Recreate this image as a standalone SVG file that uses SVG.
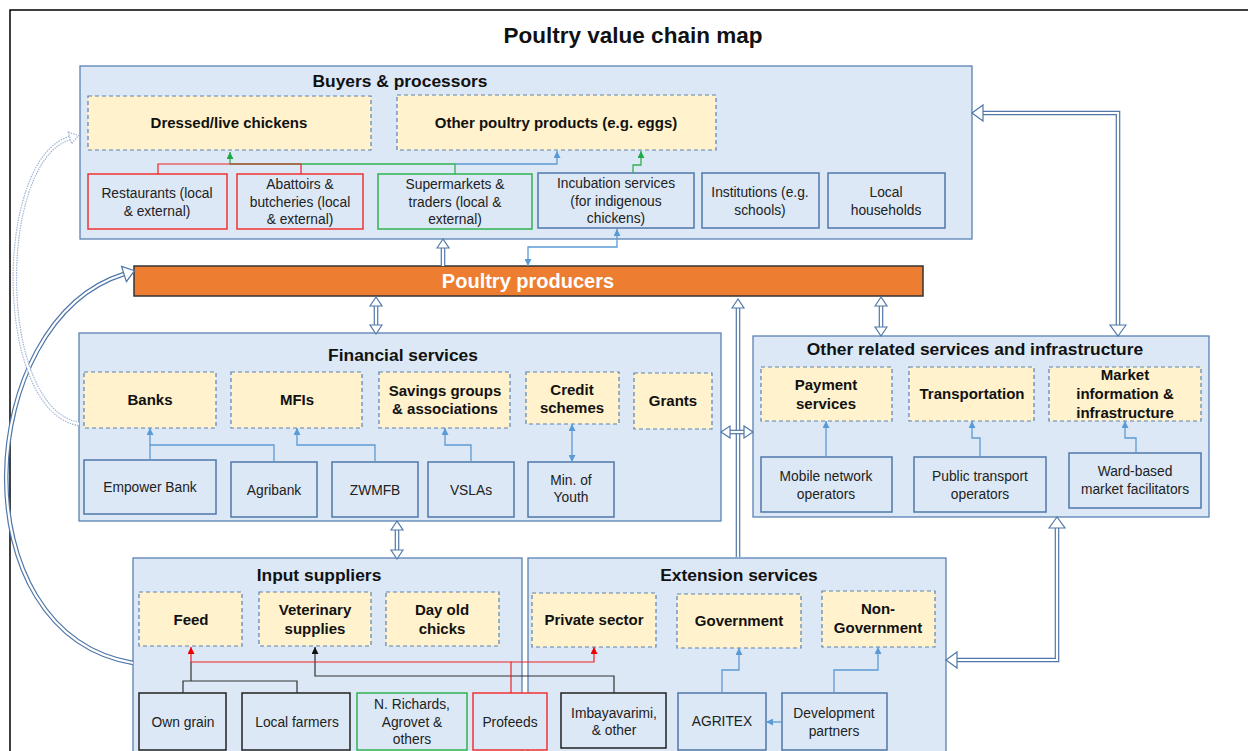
<svg xmlns="http://www.w3.org/2000/svg" width="1248" height="751" viewBox="0 0 1248 751">
<style>
text{font-family:"Liberation Sans",Arial,sans-serif;text-anchor:middle;fill:#111}
.t1{font-size:22.5px;font-weight:bold}
.t2{font-size:17.4px;font-weight:bold}
.th{font-size:15px;font-weight:bold}
.tb{font-size:13.8px;fill:#222}
.tp{font-size:20px;font-weight:bold;fill:#fff}
.ctr{fill:#dce8f6;stroke:#5a82b4;stroke-width:1.3}
.hdr{fill:#fff2cc;stroke:#5a82b4;stroke-width:1.2;stroke-dasharray:4 3}
.sub{fill:#dce8f6;stroke:#4f77a8;stroke-width:1.5}
.red{stroke:#ee3333}
.grn{stroke:#2fb350}
.blk{stroke:#222}
.ln{fill:none;stroke:#5b9bd5;stroke-width:1.3}
.lr{fill:none;stroke:#ee2222;stroke-width:1.2}
.lg{fill:none;stroke:#2fb350;stroke-width:1.3}
.lk{fill:none;stroke:#333;stroke-width:1.2}
.dout{fill:none;stroke:#4f77a8;stroke-width:4.6}
.din{fill:none;stroke:#fff;stroke-width:2.2}
.dotout{fill:none;stroke:#a3b8d4;stroke-width:4.6;stroke-dasharray:1.5 1}
</style>
<defs>
<marker id="ab" markerUnits="userSpaceOnUse" viewBox="0 0 8 8" refX="8" refY="4" markerWidth="7" markerHeight="7" orient="auto-start-reverse"><path d="M0,0L8,4L0,8z" fill="#5b9bd5"/></marker>
<marker id="ag" markerUnits="userSpaceOnUse" viewBox="0 0 8 8" refX="8" refY="4" markerWidth="7" markerHeight="7" orient="auto-start-reverse"><path d="M0,0L8,4L0,8z" fill="#1faa45"/></marker>
<marker id="ar" markerUnits="userSpaceOnUse" viewBox="0 0 8 8" refX="8" refY="4" markerWidth="7" markerHeight="7" orient="auto-start-reverse"><path d="M0,0L8,4L0,8z" fill="#ee0000"/></marker>
<marker id="ak" markerUnits="userSpaceOnUse" viewBox="0 0 8 8" refX="8" refY="4" markerWidth="7" markerHeight="7" orient="auto-start-reverse"><path d="M0,0L8,4L0,8z" fill="#111"/></marker>
<marker id="dh" markerUnits="userSpaceOnUse" refX="0" refY="0" markerWidth="20" markerHeight="20" orient="auto-start-reverse" style="overflow:visible"><path d="M0,-6L9,0L0,6z" fill="#fff" stroke="#4f77a8" stroke-width="1.2"/></marker>
<marker id="dhb" markerUnits="userSpaceOnUse" refX="0" refY="0" markerWidth="20" markerHeight="20" orient="auto-start-reverse" style="overflow:visible"><path d="M0,-8L11,0L0,8z" fill="#fff" stroke="#4f77a8" stroke-width="1.2"/></marker>
<marker id="dhd" markerUnits="userSpaceOnUse" refX="0" refY="0" markerWidth="20" markerHeight="20" orient="auto-start-reverse" style="overflow:visible"><path d="M0,-6L9,0L0,6z" fill="#fff" stroke="#a3b8d4" stroke-width="1.2" stroke-dasharray="1.5 1"/></marker>
</defs>
<rect x="0" y="0" width="1248" height="751" fill="#fff"/>
<rect x="10" y="10" width="1260" height="770" fill="none" stroke="#000" stroke-width="1.5"/>
<text class="t1" x="633" y="43">Poultry value chain map</text>

<!-- containers -->
<g id="buyers">
<rect class="ctr" x="80" y="66" width="892" height="173"/>
<text class="t2" x="400" y="87">Buyers &amp; processors</text>
</g>
<g id="financial">
<rect class="ctr" x="79" y="333" width="642" height="188"/>
<text class="t2" x="403" y="361">Financial services</text>
</g>
<g id="other-services">
<rect class="ctr" x="753" y="336" width="456" height="181"/>
<text class="t2" x="975" y="355">Other related services and infrastructure</text>
</g>
<g id="input-suppliers">
<rect class="ctr" x="133" y="558" width="389" height="210"/>
<text class="t2" x="319" y="581">Input suppliers</text>
</g>
<g id="extension">
<rect class="ctr" x="528" y="558" width="418" height="210"/>
<text class="t2" x="739" y="581">Extension services</text>
</g>
<g id="producers">
<rect x="134" y="266" width="789" height="30" fill="#ed7d31" stroke="#333" stroke-width="1.5"/>
<text class="tp" x="528" y="288">Poultry producers</text>
</g>

<!-- buyers leaves -->
<g id="dressed"><rect class="hdr" x="88" y="96" width="283" height="54"/><text class="th" x="229" y="128">Dressed/live chickens</text></g>
<g id="other-products"><rect class="hdr" x="397" y="95" width="319" height="55"/><text class="th" x="556" y="128">Other poultry products (e.g. eggs)</text></g>
<g id="restaurants"><rect class="sub red" x="88" y="174" width="139" height="55"/><text class="tb" x="157" y="198">Restaurants (local</text><text class="tb" x="157" y="216">&amp; external)</text></g>
<g id="abattoirs"><rect class="sub red" x="237" y="174" width="126" height="55"/><text class="tb" x="300" y="189">Abattoirs &amp;</text><text class="tb" x="300" y="207">butcheries (local</text><text class="tb" x="300" y="224">&amp; external)</text></g>
<g id="supermarkets"><rect class="sub grn" x="378" y="174" width="154" height="55"/><text class="tb" x="455" y="189">Supermarkets &amp;</text><text class="tb" x="455" y="207">traders (local &amp;</text><text class="tb" x="455" y="224">external)</text></g>
<g id="incubation"><rect class="sub" x="538" y="173" width="156" height="55"/><text class="tb" x="616" y="188">Incubation services</text><text class="tb" x="616" y="206">(for indigenous</text><text class="tb" x="616" y="223">chickens)</text></g>
<g id="institutions"><rect class="sub" x="702" y="173" width="117" height="55"/><text class="tb" x="760" y="197">Institutions (e.g.</text><text class="tb" x="760" y="215">schools)</text></g>
<g id="households"><rect class="sub" x="828" y="173" width="117" height="55"/><text class="tb" x="886" y="197">Local</text><text class="tb" x="886" y="215">households</text></g>

<!-- financial leaves -->
<g id="banks"><rect class="hdr" x="84" y="372" width="132" height="56"/><text class="th" x="150" y="405">Banks</text></g>
<g id="mfis"><rect class="hdr" x="231" y="372" width="131" height="56"/><text class="th" x="297" y="405">MFIs</text></g>
<g id="savings"><rect class="hdr" x="379" y="372" width="131" height="56"/><text class="th" x="445" y="396">Savings groups</text><text class="th" x="445" y="414">&amp; associations</text></g>
<g id="credit"><rect class="hdr" x="526" y="372" width="93" height="52"/><text class="th" x="572" y="395">Credit</text><text class="th" x="572" y="413">schemes</text></g>
<g id="grants"><rect class="hdr" x="634" y="373" width="78" height="56"/><text class="th" x="673" y="406">Grants</text></g>
<g id="empower"><rect class="sub" x="84" y="460" width="132" height="54"/><text class="tb" x="150" y="492">Empower Bank</text></g>
<g id="agribank"><rect class="sub" x="231" y="462" width="86" height="55"/><text class="tb" x="274" y="495">Agribank</text></g>
<g id="zwmfb"><rect class="sub" x="332" y="462" width="86" height="55"/><text class="tb" x="375" y="495">ZWMFB</text></g>
<g id="vslas"><rect class="sub" x="428" y="462" width="86" height="55"/><text class="tb" x="471" y="495">VSLAs</text></g>
<g id="youth"><rect class="sub" x="528" y="462" width="86" height="55"/><text class="tb" x="571" y="485">Min. of</text><text class="tb" x="571" y="502">Youth</text></g>

<!-- other services leaves -->
<g id="payment"><rect class="hdr" x="761" y="367" width="131" height="54"/><text class="th" x="826" y="390">Payment</text><text class="th" x="826" y="409">services</text></g>
<g id="transportation"><rect class="hdr" x="909" y="367" width="125" height="54"/><text class="th" x="972" y="399">Transportation</text></g>
<g id="market-info"><rect class="hdr" x="1049" y="367" width="152" height="54"/><text class="th" x="1125" y="380">Market</text><text class="th" x="1125" y="399">information &amp;</text><text class="th" x="1125" y="418">infrastructure</text></g>
<g id="mobile"><rect class="sub" x="761" y="457" width="131" height="55"/><text class="tb" x="826" y="481">Mobile network</text><text class="tb" x="826" y="499">operators</text></g>
<g id="public-transport"><rect class="sub" x="914" y="457" width="132" height="55"/><text class="tb" x="980" y="481">Public transport</text><text class="tb" x="980" y="499">operators</text></g>
<g id="ward"><rect class="sub" x="1069" y="453" width="132" height="55"/><text class="tb" x="1135" y="476">Ward-based</text><text class="tb" x="1135" y="494">market facilitators</text></g>

<!-- input suppliers leaves -->
<g id="feed"><rect class="hdr" x="139" y="592" width="103" height="54"/><text class="th" x="191" y="625">Feed</text></g>
<g id="vet"><rect class="hdr" x="259" y="592" width="112" height="54"/><text class="th" x="315" y="615">Veterinary</text><text class="th" x="315" y="634">supplies</text></g>
<g id="chicks"><rect class="hdr" x="386" y="592" width="113" height="54"/><text class="th" x="442" y="615">Day old</text><text class="th" x="442" y="634">chicks</text></g>
<g id="own-grain"><rect class="sub blk" x="139" y="693" width="87" height="57"/><text class="tb" x="183" y="727">Own grain</text></g>
<g id="local-farmers"><rect class="sub blk" x="242" y="693" width="108" height="57"/><text class="tb" x="297" y="727">Local farmers</text></g>
<g id="nrichards"><rect class="sub grn" x="357" y="693" width="110" height="57"/><text class="tb" x="412" y="709">N. Richards,</text><text class="tb" x="412" y="727">Agrovet &amp;</text><text class="tb" x="412" y="744">others</text></g>
<g id="profeeds"><rect class="sub red" x="473" y="693" width="74" height="57"/><text class="tb" x="510" y="727">Profeeds</text></g>

<!-- extension leaves -->
<g id="private"><rect class="hdr" x="532" y="593" width="124" height="54"/><text class="th" x="594" y="625">Private sector</text></g>
<g id="government"><rect class="hdr" x="677" y="594" width="124" height="54"/><text class="th" x="739" y="626">Government</text></g>
<g id="ngo"><rect class="hdr" x="822" y="591" width="113" height="56"/><text class="th" x="878" y="614">Non-</text><text class="th" x="878" y="633">Government</text></g>
<g id="imbayavarimi"><rect class="sub blk" x="561" y="693" width="105" height="55"/><text class="tb" x="614" y="718">Imbayavarimi,</text><text class="tb" x="614" y="735">&amp; other</text></g>
<g id="agritex"><rect class="sub" x="678" y="693" width="88" height="57"/><text class="tb" x="722" y="726">AGRITEX</text></g>
<g id="dev-partners"><rect class="sub" x="782" y="693" width="105" height="57"/><text class="tb" x="834" y="718">Development</text><text class="tb" x="834" y="736">partners</text></g>

<g id="connectors">
<!-- buyers -->
<path class="lg" d="M455,174V164H230V152" marker-end="url(#ag)"/>
<path class="lr" d="M158,174V164H230"/>
<path class="lr" d="M301,174V164H230" stroke="#f08a8a"/>
<path class="ln" d="M455,164H557V151" marker-end="url(#ab)"/>
<path class="lg" d="M633,173V165H641V151" marker-end="url(#ag)"/>
<path class="ln" d="M617,229V247H528V266" marker-start="url(#ab)" marker-end="url(#ab)"/>
<!-- financial -->
<path class="ln" d="M274,462V445H150V428" marker-end="url(#ab)"/>
<path class="ln" d="M150,460V445"/>
<path class="ln" d="M375,462V445H297V428" marker-end="url(#ab)"/>
<path class="ln" d="M471,462V445H445V428" marker-end="url(#ab)"/>
<path class="ln" d="M572,462V424" marker-start="url(#ab)" marker-end="url(#ab)"/>
<!-- other services -->
<path class="ln" d="M826,457V421" marker-end="url(#ab)"/>
<path class="ln" d="M980,457V438H972V421" marker-end="url(#ab)"/>
<path class="ln" d="M1136,453V438H1125V421" marker-end="url(#ab)"/>
<!-- extension -->
<path class="ln" d="M722,693V670H739V648" marker-end="url(#ab)"/>
<path class="ln" d="M834,693V670H878V647" marker-end="url(#ab)"/>
<path class="ln" d="M782,722H766" marker-end="url(#ab)"/>
<!-- input suppliers -->
<path class="lk" d="M183,693V681H297V693" stroke="#555"/>
<path class="lk" d="M191,681V662" stroke="#555"/>
<path class="lk" d="M614,693V676H315V647" marker-end="url(#ak)"/>
<path class="lr" d="M511,693V662H191V647" marker-end="url(#ar)"/>
<path class="lr" d="M511,662H594V647" marker-end="url(#ar)"/>
<!-- double-line arrows -->
<path class="dout" d="M443,266V248"/><path class="din" d="M443,266V248" marker-end="url(#dh)"/>
<path class="dout" d="M376,306V325"/><path class="din" d="M376,306V325" marker-start="url(#dh)" marker-end="url(#dh)"/>
<path class="dout" d="M738,557V308"/><path class="din" d="M738,557V308" marker-end="url(#dh)"/>
<path class="dout" d="M881,306V327"/><path class="din" d="M881,306V327" marker-start="url(#dh)" marker-end="url(#dh)"/>
<path class="dout" d="M730,432H744"/><path class="din" d="M730,432H744" marker-start="url(#dh)" marker-end="url(#dh)"/>
<path class="dout" d="M397,530V550"/><path class="din" d="M397,530V550" marker-start="url(#dh)" marker-end="url(#dh)"/>
<path class="dout" d="M1118,325V113H983"/><path class="din" d="M1118,325V113H983" marker-start="url(#dhb)" marker-end="url(#dhb)"/>
<path class="dout" d="M1057,528V660H957"/><path class="din" d="M1057,528V660H957" marker-start="url(#dhb)" marker-end="url(#dhb)"/>
<path class="dout" d="M133,663C-43,633 -26,321 124,274"/><path class="din" d="M133,663C-43,633 -26,321 124,274" marker-end="url(#dhb)"/>
<path class="dotout" d="M79,424C-5,410 -5,160 70,138"/><path class="din" d="M79,424C-5,410 -5,160 70,138" marker-end="url(#dhd)"/>
</g>
</svg>
